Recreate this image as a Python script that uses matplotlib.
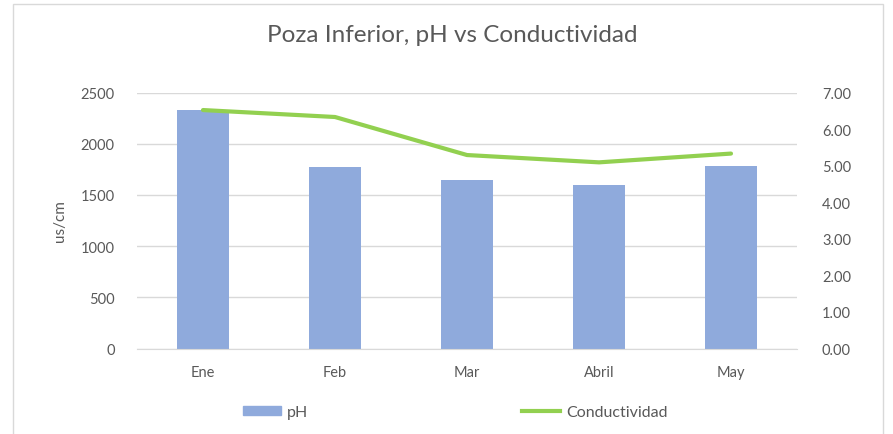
import matplotlib
matplotlib.use("Agg")
import matplotlib.pyplot as plt
from matplotlib.patches import Rectangle, Patch
from matplotlib.lines import Line2D

months = ["Ene", "Feb", "Mar", "Abril", "May"]
ph_bars = [2327, 1768, 1643, 1601, 1780]
conductividad = [6.52, 6.33, 5.29, 5.09, 5.33]

left_ticks = [0, 500, 1000, 1500, 2000, 2500]
right_ticks = [0, 1, 2, 3, 4, 5, 6, 7]

W, H = 893, 435
gray = "#595959"
plt.rcParams["font.family"] = ["Lato", "DejaVu Sans"]

fig = plt.figure(figsize=(W / 100, H / 100), dpi=100)
fig.patches.append(Rectangle((13 / W, -0.05), 870 / W, 1.05 - 5 / H,
                             transform=fig.transFigure, fill=False,
                             edgecolor="#d9d9d9", linewidth=1))

ax = fig.add_axes([137 / W, 1 - 349.5 / H, 660 / W, 256 / H])
x = range(len(months))
ax.bar(x, ph_bars, width=0.39, color="#8FAADC", zorder=2)
ax.set_xlim(-0.5, len(months) - 0.5)
ax.set_ylim(0, 2500)
ax.set_yticks(left_ticks)
ax.set_xticks(list(x))
ax.set_xticklabels(months)
ax.grid(axis="y", color="#d9d9d9", linewidth=1, zorder=0)
ax.set_axisbelow(True)
for s in ax.spines.values():
    s.set_visible(False)
ax.spines["bottom"].set_visible(True)
ax.spines["bottom"].set_color("#d9d9d9")
ax.tick_params(axis="both", length=0, labelsize=10.5, colors=gray)
ax.tick_params(axis="y", pad=16)
ax.tick_params(axis="x", pad=12)
ax.set_ylabel("us/cm", fontsize=11, color=gray, labelpad=10)

ax2 = ax.twinx()
ax2.plot(x, conductividad, color="#92D050", linewidth=3, solid_capstyle="round", zorder=3)
ax2.set_ylim(0, 7)
ax2.set_yticks(right_ticks)
ax2.set_yticklabels([f"{v:.2f}" for v in right_ticks])
for s in ax2.spines.values():
    s.set_visible(False)
ax2.tick_params(axis="y", length=0, labelsize=10.5, colors=gray, pad=18)

fig.text(452 / W, 1 - 35 / H, "Poza Inferior, pH vs Conductividad",
         ha="center", va="center", fontsize=17.5, color=gray)

handles = [Patch(color="#8FAADC"),
           Line2D([0], [0], color="#92D050", linewidth=3)]
fig.legend(handles, ["pH", "Conductividad"], ncol=2, loc="center",
           bbox_to_anchor=(455 / W, 1 - 413 / H), frameon=False,
           fontsize=11.5, labelcolor=gray, handlelength=2.4, handleheight=0.45,
           handletextpad=0.35, columnspacing=13.4)

fig.savefig("out.png", dpi=100)
